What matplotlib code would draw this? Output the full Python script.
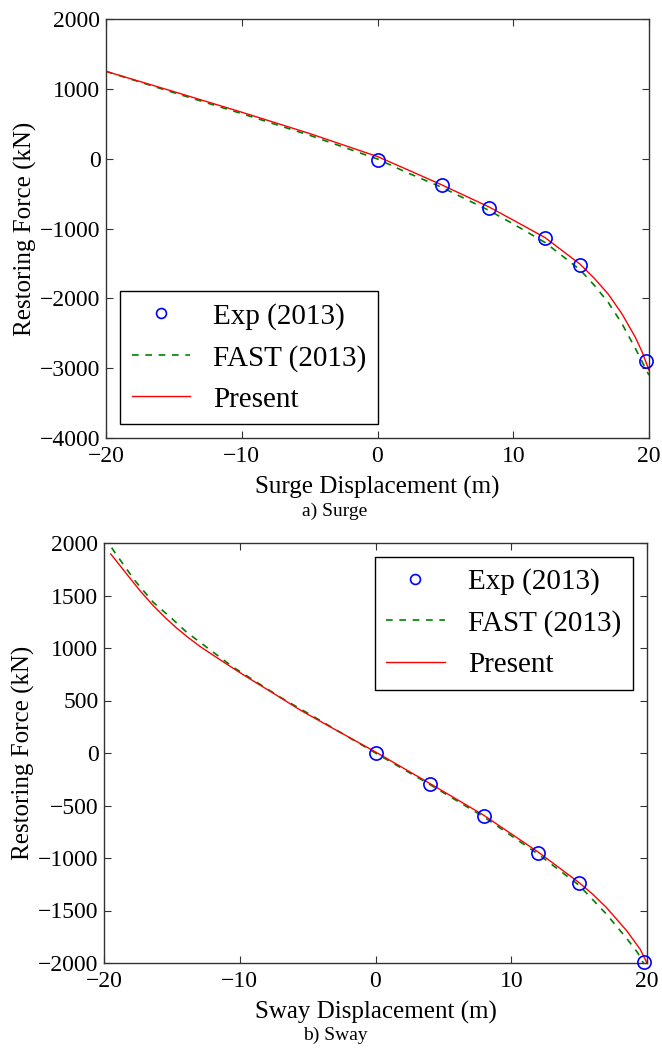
import matplotlib
matplotlib.use("Agg")
import matplotlib.pyplot as plt
import numpy as np

# --- surge (a) ---
surge_exp_x = [0.0, 4.73, 8.2, 12.34, 14.92, 19.8]
surge_exp_y = [-20, -377, -702, -1140, -1523, -2893]

surge_x = [-20, -15, -10, -5, 0, 2, 4.73, 8.2, 10, 12.34, 14.92, 16, 17, 18, 19,
           19.5, 20]
surge_present = [1250, 960, 665, 360, 30, -140, -375, -690, -880, -1130, -1510,
                 -1720, -1940, -2220, -2560, -2770, -3030]
surge_fast = [1250, 945, 645, 335, -5, -185, -410, -740, -935, -1200, -1590,
              -1820, -2060, -2360, -2720, -2910, -3100]

# --- sway (b) ---
sway_exp_x = [0, 4, 8, 12, 15, 19.8]
sway_exp_y = [0, -295, -597, -950, -1235, -1990]

sway_present_x = [-19.5, -18.33, -17.35, -16.37, -15.5, -14.65, -13.8, -12.93,
                  -11.3, -9.74, -7, -5.56, -3, 0, 4, 8, 12, 15, 16, 17, 18.5,
                  19.5, 20]
sway_present = [1895, 1705, 1546, 1403, 1290, 1190, 1100, 1015, 875, 745, 527,
                410, 225, 10, -290, -595, -945, -1235, -1345, -1470, -1692,
                -1870, -2000]
sway_fast_x = [-20, -18.95, -17.72, -16.37, -15, -13.9, -10.47, -7, -5, 0, 4, 8,
               12, 15, 17, 18.5, 19.3, 20]
sway_fast = [2060, 1864, 1641, 1435, 1280, 1149, 816, 530, 380, 0, -300, -610,
             -965, -1260, -1533, -1765, -1900, -2060]

LABELS = ["Exp (2013)", "FAST (2013)", "Present"]

plt.rcParams["font.family"] = ["Liberation Serif", "DejaVu Serif"]
plt.rcParams["xtick.direction"] = "in"
plt.rcParams["ytick.direction"] = "in"
plt.rcParams["xtick.top"] = True
plt.rcParams["ytick.right"] = True
plt.rcParams["xtick.major.size"] = 5
plt.rcParams["ytick.major.size"] = 5
plt.rcParams["xtick.major.pad"] = 6
plt.rcParams["ytick.major.pad"] = 4
plt.rcParams["axes.linewidth"] = 1.0
plt.rcParams["axes.edgecolor"] = "#333333"

W, H = 662, 1050
fig = plt.figure(figsize=(W / 100, H / 100), dpi=100, facecolor="white")


def draw(ax, ex, ey, fx, fy, px, py, ylim, yticks, xlabel):
    ax.plot(ex, ey, "o", mfc="none", mec="blue", mew=1.2, ms=9.5, label=LABELS[0],
            clip_on=False, zorder=3)
    ax.plot(fx, fy, "--", color="green", lw=1.2, dashes=(4, 4), label=LABELS[1])
    ax.plot(px, py, "-", color="red", lw=1.0, label=LABELS[2])
    ax.set_xlim(-20, 20)
    ax.set_ylim(*ylim)
    ax.set_xticks([-20, -10, 0, 10, 20])
    ax.set_yticks(yticks)
    ax.tick_params(labelsize=17, color="#333333")
    ax.set_xlabel(xlabel, fontsize=18, labelpad=6)
    ax.set_ylabel("Restoring Force (kN)", fontsize=18, labelpad=2)


def add_legend(ax, loc, anchor):
    leg = ax.legend(loc=loc, bbox_to_anchor=anchor, borderaxespad=0,
                    fontsize=21, numpoints=1, markerscale=0.75, fancybox=False,
                    framealpha=1, edgecolor="black", handlelength=2.0,
                    handletextpad=0.8, labelspacing=0.5, borderpad=0.4)
    leg.get_frame().set_linewidth(1.0)
    return leg


ax1 = fig.add_axes([106 / W, 1 - 438 / H, 543 / W, 419 / H])
draw(ax1, surge_exp_x, surge_exp_y, surge_x, surge_fast, surge_x, surge_present,
     (-4000, 2000), np.arange(-4000, 2001, 1000), "Surge Displacement (m)")
add_legend(ax1, "lower left", (0.026, 0.033))

ax2 = fig.add_axes([104 / W, 1 - 963 / H, 543 / W, 420 / H])
draw(ax2, sway_exp_x, sway_exp_y, sway_fast_x, sway_fast, sway_present_x,
     sway_present, (-2000, 2000), np.arange(-2000, 2001, 500),
     "Sway Displacement (m)")
add_legend(ax2, "upper right", (0.974, 0.967))

fig.text(335 / W, 1 - 511 / H, "a) Surge", ha="center", va="center", fontsize=14)
fig.text(335 / W, 1 - 1035 / H, "b) Sway", ha="center", va="center", fontsize=14)

fig.savefig("out.png", dpi=100, facecolor="white")
